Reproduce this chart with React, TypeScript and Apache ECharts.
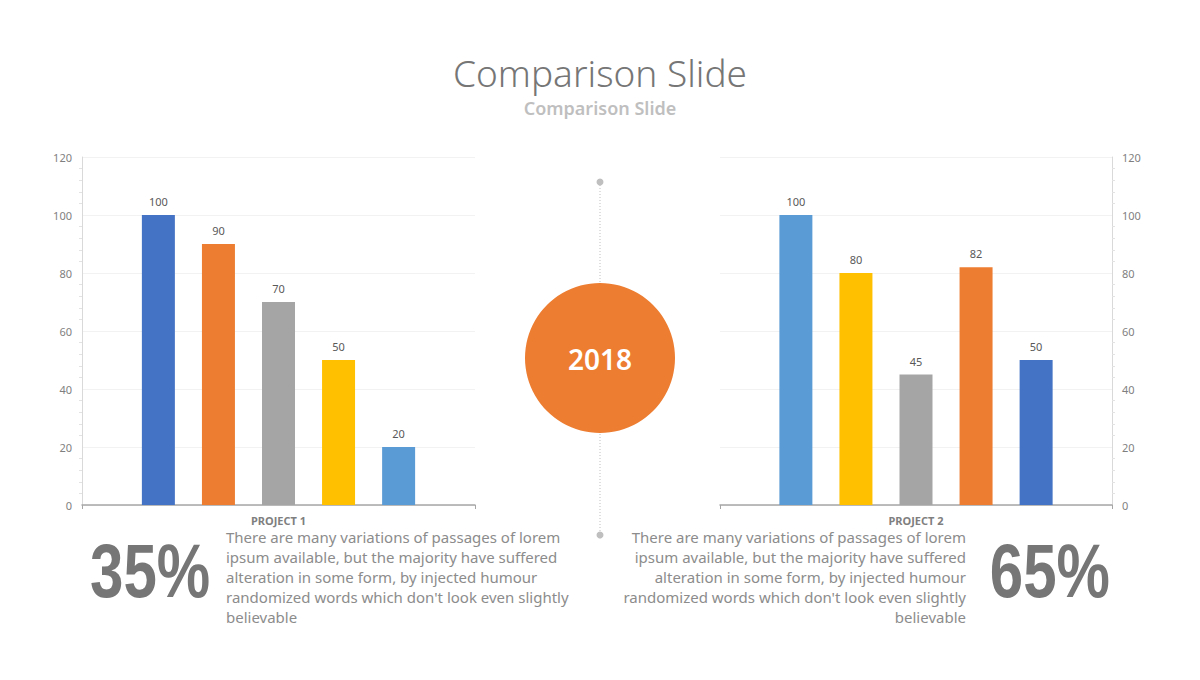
import React, { useEffect, useRef } from "react";
import * as echarts from "echarts";

const titleText = "Comparison Slide";
const subtitleText = "Comparison Slide";
const yearText = "2018";
const categories1 = ["PROJECT 1"];
const categories2 = ["PROJECT 2"];
const p1Values = [100, 90, 70, 50, 20];
const p2Values = [100, 80, 45, 82, 50];
const p1Colors = ["#4472C4", "#ED7D31", "#A5A5A5", "#FFC000", "#5B9BD5"];
const p2Colors = ["#5B9BD5", "#FFC000", "#A5A5A5", "#ED7D31", "#4472C4"];
const yMin = 0;
const yMax = 120;
const yInterval = 20;
const pct1 = "35%";
const pct2 = "65%";
const bodyLines = [
  "There are many variations of passages of lorem",
  "ipsum available, but the majority have suffered",
  "alteration in some form, by injected humour",
  "randomized words which don't look even slightly",
  "believable",
];

const FONT = "'Noto Sans', 'Open Sans', sans-serif";

export default function App() {
  const ref = useRef<HTMLDivElement>(null);
  useEffect(() => {
    if (!ref.current) return;
    const chart = echarts.init(ref.current, null, { renderer: "svg" });

    const yAxisCommon = (pos: "left" | "right", gridIndex: number) => ({
      type: "value",
      gridIndex,
      position: pos,
      min: yMin,
      max: yMax,
      interval: yInterval,
      axisLine: { show: true, lineStyle: { color: "#D9D9D9", width: 1 } },
      axisTick: { show: false },
      minorTick: { show: true, splitNumber: 5, length: 3, lineStyle: { color: "#E3E3E3" } },
      axisLabel: { color: "#7F7F7F", fontSize: 11, margin: 10, fontFamily: FONT },
      splitLine: { show: true, lineStyle: { color: "#F2F2F2", width: 1 } },
    });

    const xAxisCommon = (data: string[], gridIndex: number) => ({
      type: "category",
      gridIndex,
      data,
      axisLine: { show: true, lineStyle: { color: "#A6A6A6", width: 1.5 } },
      axisTick: { show: true, length: 4, lineStyle: { color: "#A6A6A6" } },
      axisLabel: {
        color: "#7F7F7F",
        fontSize: 11,
        fontWeight: "bold",
        margin: 10,
        fontFamily: FONT,
      },
    });

    const mkSeries = (vals: number[], colors: string[], axisIndex: number) =>
      vals.map((v, i) => ({
        type: "bar",
        xAxisIndex: axisIndex,
        yAxisIndex: axisIndex,
        data: [v],
        barWidth: 33,
        barGap: "82%",
        itemStyle: { color: colors[i] },
        label: {
          show: true,
          position: "top",
          distance: 8,
          color: "#595959",
          fontSize: 11,
          fontFamily: FONT,
        },
      }));

    const lineHeight = 20;

    chart.setOption({
      animation: false,
      backgroundColor: "#FFFFFF",
      grid: [
        { left: 82, top: 157, width: 393, height: 348 },
        { left: 720, top: 157, width: 392, height: 348 },
      ],
      xAxis: [xAxisCommon(categories1, 0), xAxisCommon(categories2, 1)],
      yAxis: [yAxisCommon("left", 0), yAxisCommon("right", 1)],
      series: [...mkSeries(p1Values, p1Colors, 0), ...mkSeries(p2Values, p2Colors, 1)],
      graphic: [
        {
          type: "text",
          x: 600,
          y: 72,
          style: {
            text: titleText,
            fill: "#767676",
            fontSize: 37,
            fontFamily: FONT,
            fontWeight: 300,
            textAlign: "center",
            textVerticalAlign: "middle",
          },
        },
        {
          type: "text",
          x: 600,
          y: 108,
          style: {
            text: subtitleText,
            fill: "#BFBFBF",
            fontSize: 18,
            fontFamily: FONT,
            fontWeight: 600,
            textAlign: "center",
            textVerticalAlign: "middle",
          },
        },
        {
          type: "line",
          shape: { x1: 600, y1: 182, x2: 600, y2: 535 },
          style: { stroke: "#BFBFBF", lineWidth: 1, lineDash: [1, 2] },
        },
        { type: "circle", shape: { cx: 600, cy: 182, r: 3.5 }, style: { fill: "#BFBFBF" } },
        { type: "circle", shape: { cx: 600, cy: 535, r: 3.5 }, style: { fill: "#BFBFBF" } },
        { type: "circle", shape: { cx: 600, cy: 358, r: 75 }, style: { fill: "#ED7D31" } },
        {
          type: "text",
          x: 600,
          y: 359,
          style: {
            text: yearText,
            fill: "#FFFFFF",
            fontSize: 28,
            fontFamily: FONT,
            fontWeight: 600,
            textAlign: "center",
            textVerticalAlign: "middle",
          },
        },
        {
          type: "text",
          x: 90,
          y: 571,
          scaleX: 0.79,
          style: {
            text: pct1,
            fill: "#767676",
            fontSize: 76,
            fontWeight: "bold",
            fontFamily: "'Liberation Sans', Arial, sans-serif",
            textAlign: "left",
            textVerticalAlign: "middle",
          },
        },
        {
          type: "text",
          x: 1110,
          y: 571,
          scaleX: 0.79,
          style: {
            text: pct2,
            fill: "#767676",
            fontSize: 76,
            fontWeight: "bold",
            fontFamily: "'Liberation Sans', Arial, sans-serif",
            textAlign: "right",
            textVerticalAlign: "middle",
          },
        },
        ...bodyLines.map((t, i) => ({
          type: "text",
          x: 226,
          y: 537 + i * lineHeight,
          style: {
            text: t,
            fill: "#8C8C8C",
            fontSize: 15,
            fontFamily: FONT,
            textAlign: "left",
            textVerticalAlign: "middle",
          },
        })),
        ...bodyLines.map((t, i) => ({
          type: "text",
          x: 966,
          y: 537 + i * lineHeight,
          style: {
            text: t,
            fill: "#8C8C8C",
            fontSize: 15,
            fontFamily: FONT,
            textAlign: "right",
            textVerticalAlign: "middle",
          },
        })),
      ],
    });
    return () => chart.dispose();
  }, []);

  return (
    <div
      ref={ref}
      style={{ position: "fixed", left: 0, top: 0, width: 1200, height: 680 }}
    />
  );
}
